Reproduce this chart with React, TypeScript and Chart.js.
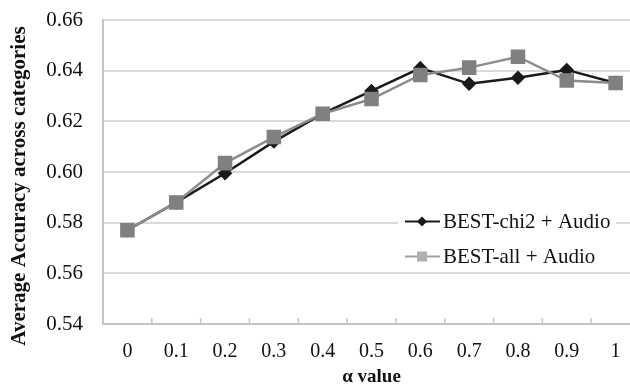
import React, { useEffect, useRef } from "react";
import { Chart, registerables } from "chart.js";

Chart.register(...registerables);

const alphaLabels = ["0", "0.1", "0.2", "0.3", "0.4", "0.5", "0.6", "0.7", "0.8", "0.9", "1"];
const chi2Audio = [0.577, 0.588, 0.5995, 0.612, 0.623, 0.632, 0.641, 0.6348, 0.6372, 0.6403, 0.6351];
const allAudio = [0.577, 0.588, 0.6035, 0.6138, 0.623, 0.6288, 0.6383, 0.6412, 0.6455, 0.6361, 0.6351];
const yTicks = [0.54, 0.56, 0.58, 0.6, 0.62, 0.64, 0.66];
const seriesNames = ["BEST-chi2 + Audio", "BEST-all + Audio"];
const yTitle = "Average Accuracy across categories";
const xTitle = "α value";

const FONT = "'Liberation Serif', 'Times New Roman', serif";

const tickMarksPlugin = {
  id: "innerTicks",
  beforeDatasetsDraw(chart: any) {
    const x = chart.scales.x;
    const area = chart.chartArea;
    const ctx = chart.ctx;
    ctx.save();
    ctx.strokeStyle = "#c4c4c4";
    ctx.lineWidth = 1.5;
    for (let i = 1; i < alphaLabels.length; i++) {
      const px = (x.getPixelForValue(i - 1) + x.getPixelForValue(i)) / 2;
      ctx.beginPath();
      ctx.moveTo(px, area.bottom);
      ctx.lineTo(px, area.bottom - 6);
      ctx.stroke();
    }
    ctx.restore();
  },
};

const yTitlePlugin = {
  id: "yTitle",
  afterDraw(chart: any) {
    const ctx = chart.ctx;
    ctx.save();
    ctx.translate(20, 186);
    ctx.rotate(-Math.PI / 2);
    ctx.fillStyle = "#111111";
    ctx.font = `bold 21px ${FONT}`;
    ctx.textAlign = "center";
    ctx.textBaseline = "middle";
    ctx.fillText(yTitle, 0, 0);
    ctx.restore();
  },
};

const legendPlugin = {
  id: "innerLegend",
  afterDraw(chart: any) {
    const ctx = chart.ctx;
    const left = 398;
    const top = 204;
    ctx.save();
    ctx.fillStyle = "#ffffff";
    ctx.fillRect(left, top, 218, 66);
    const rows = [221.5, 256.5];
    const lineCol = ["#1a1a1a", "#a0a0a0"];
    const markCol = ["#1a1a1a", "#b0b0b0"];
    rows.forEach((y, i) => {
      ctx.strokeStyle = lineCol[i];
      ctx.lineWidth = 2;
      ctx.beginPath();
      ctx.moveTo(405, y);
      ctx.lineTo(440, y);
      ctx.stroke();
      ctx.fillStyle = markCol[i];
      ctx.beginPath();
      if (i === 0) {
        ctx.moveTo(422, y - 5);
        ctx.lineTo(427, y);
        ctx.lineTo(422, y + 5);
        ctx.lineTo(417, y);
        ctx.closePath();
      } else {
        ctx.rect(417, y - 5, 10, 10);
      }
      ctx.fill();
      ctx.fillStyle = "#111111";
      ctx.font = `21px ${FONT}`;
      ctx.textBaseline = "middle";
      ctx.textAlign = "left";
      ctx.fillText(seriesNames[i], 443, y + 1);
    });
    ctx.restore();
  },
};

export default function App() {
  const ref = useRef<HTMLCanvasElement | null>(null);
  useEffect(() => {
    document.body.style.margin = "0";
    if (!ref.current) return;
    const chart = new Chart(ref.current, {
      type: "line",
      data: {
        labels: alphaLabels,
        datasets: [
          {
            label: seriesNames[1],
            data: allAudio,
            borderColor: "#8c8c8c",
            backgroundColor: "#808080",
            pointBackgroundColor: "#808080",
            pointBorderColor: "#808080",
            pointStyle: "rect",
            pointRadius: 8.5,
            borderWidth: 2.5,
            tension: 0,
          },
          {
            label: seriesNames[0],
            data: chi2Audio,
            borderColor: "#1a1a1a",
            backgroundColor: "#1a1a1a",
            pointBackgroundColor: "#1a1a1a",
            pointBorderColor: "#1a1a1a",
            pointStyle: "rectRot",
            pointRadius: 5.5,
            borderWidth: 2.5,
            tension: 0,
          },
        ],
      },
      options: {
        responsive: false,
        animation: false,
        layout: { autoPadding: false, padding: { left: 0, right: 0, top: 20, bottom: 0 } },
        plugins: {
          legend: { display: false },
          title: { display: false },
          tooltip: { enabled: false },
        },
        scales: {
          x: {
            type: "category",
            offset: true,
            grid: { display: false, drawOnChartArea: false, drawTicks: false },
            border: { display: true, color: "#c4c4c4", width: 2 },
            ticks: {
              color: "#111111",
              font: { family: FONT, size: 20 },
              padding: 16,
              maxRotation: 0,
              autoSkip: false,
            },
            title: {
              display: true,
              text: xTitle,
              color: "#111111",
              font: { family: FONT, size: 19, weight: "bold" },
              padding: { top: 0, bottom: 0 },
            },
            afterFit(scale: any) {
              scale.height = 64;
            },
          },
          y: {
            min: 0.54,
            max: 0.66,
            afterBuildTicks(scale: any) {
              scale.ticks = yTicks.map((v) => ({ value: v }));
            },
            grid: { color: "#d9d9d9", lineWidth: 2, drawTicks: false },
            border: { display: true, color: "#c4c4c4", width: 2 },
            ticks: {
              color: "#111111",
              font: { family: FONT, size: 21 },
              padding: 20,
              callback: (v: any) => Number(v).toFixed(2),
            },
            title: { display: false },
            afterFit(scale: any) {
              scale.width = 103;
              scale.paddingTop = 0;
              scale.paddingBottom = 0;
            },
          },
        },
      },
      plugins: [tickMarksPlugin, legendPlugin, yTitlePlugin],
    });
    return () => chart.destroy();
  }, []);
  return (
    <div style={{ width: 630, height: 388, overflow: "hidden", position: "relative", background: "#fff" }}>
      <canvas ref={ref} width={640} height={388} style={{ display: "block" }} />
    </div>
  );
}
